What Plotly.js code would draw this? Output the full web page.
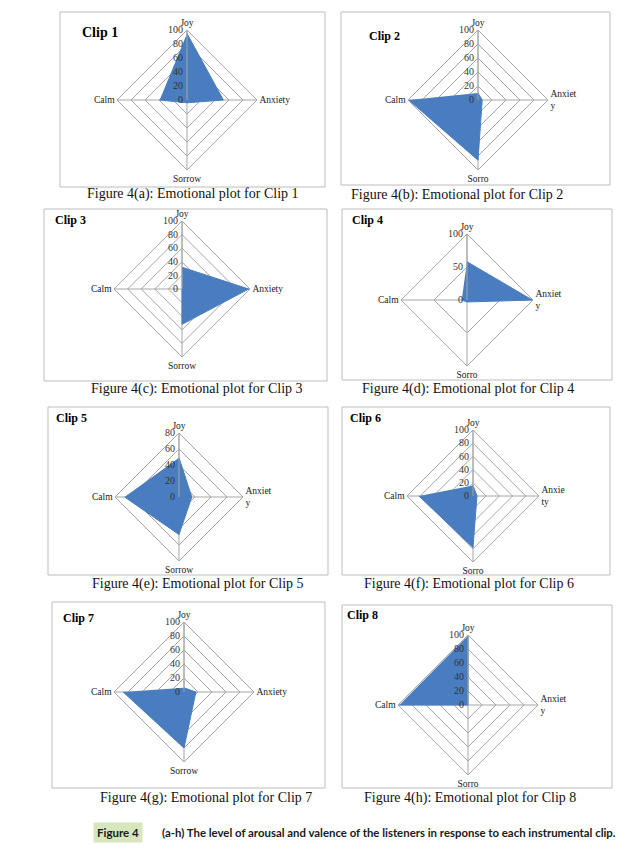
<!DOCTYPE html>
<html><head><meta charset="utf-8">
<script src="https://cdn.plot.ly/plotly-3.0.1.min.js"></script>
<style>html,body{margin:0;padding:0;background:#fff}#chart{width:641px;height:849px}</style>
</head><body><div id="chart"></div>
<script>
// ---- data ----
const categories = ["Joy", "Anxiety", "Sorrow", "Calm"];
const clip1 = [95, 52, 4, 39];
const clip2 = [10, 6, 86, 99];
const clip3 = [32, 98, 52, 0];
const clip4 = [58, 99, 3, 8];
const clip5 = [49, 16, 47, 68];
const clip6 = [16, 6, 78, 82];
const clip7 = [6, 17, 80, 87];
const clip8 = [99, 0, 0, 98];
const clipNames = ["Clip 1", "Clip 2", "Clip 3", "Clip 4", "Clip 5", "Clip 6", "Clip 7", "Clip 8"];
const captions = [
  "Figure 4(a): Emotional plot for Clip 1", "Figure 4(b): Emotional plot for Clip 2",
  "Figure 4(c): Emotional plot for Clip 3", "Figure 4(d): Emotional plot for Clip 4",
  "Figure 4(e): Emotional plot for Clip 5", "Figure 4(f): Emotional plot for Clip 6",
  "Figure 4(g): Emotional plot for Clip 7", "Figure 4(h): Emotional plot for Clip 8"
];
const labelsFull = ["Joy", "Anxiety", "Sorrow", "Calm"];
const labelsCut = ["Joy", "Anxiet<br>y", "Sorro", "Calm"];
const labelsCut5 = ["Joy", "Anxiet<br>y", "Sorrow", "Calm"];
const labelsCut6 = ["Joy", "Anxie<br>ty", "Sorro", "Calm"];
const ticks100 = [0, 20, 40, 60, 80, 100];
const ticks50 = [0, 50, 100];
const ticks80 = [0, 20, 40, 60, 80];
const figNote = "(a-h) The level of arousal and valence of the listeners in response to each instrumental clip.";
const figLabel = "Figure 4";

// ---- layout geometry (pixels) ----
const W = 641, H = 849;
const px = x => x / W, py = y => 1 - y / H;
const panels = [
  {vals: clip1, labels: labelsFull, ticks: ticks100, max: 100, cx: 187, cy: 100, r: 70, box: [60, 12, 325, 187], clip: [80, 32, 14], cap: [193, 194]},
  {vals: clip2, labels: labelsCut, ticks: ticks100, max: 100, cx: 478, cy: 100, r: 70, box: [341, 12, 610, 185], clip: [367, 36, 12], cap: [457, 195]},
  {vals: clip3, labels: labelsFull, ticks: ticks100, max: 100, cx: 182, cy: 289, r: 68, box: [44, 209, 327, 381], clip: [53, 220, 12], cap: [197, 389]},
  {vals: clip4, labels: labelsCut, ticks: ticks50, max: 100, cx: 467, cy: 300, r: 66, box: [342, 209, 612, 380], clip: [350, 220, 12], cap: [468, 389]},
  {vals: clip5, labels: labelsCut5, ticks: ticks80, max: 80, cx: 179, cy: 497, r: 64, box: [48, 407, 328, 575], clip: [54, 418, 12], cap: [198, 584]},
  {vals: clip6, labels: labelsCut6, ticks: ticks100, max: 100, cx: 473, cy: 496, r: 66, box: [342, 407, 610, 575], clip: [348, 418, 12], cap: [469, 584]},
  {vals: clip7, labels: labelsFull, ticks: ticks100, max: 100, cx: 184, cy: 692, r: 70, box: [52, 602, 325, 788], clip: [61, 618, 12], cap: [206, 798]},
  {vals: clip8, labels: labelsCut, ticks: ticks100, max: 100, cx: 468, cy: 705, r: 70, box: [342, 605, 612, 788], clip: [345, 615, 12], cap: [470, 798]}
];

const serif = "Liberation Serif, Times New Roman, serif";
const gridCol = "#a6a6a6";
const fillCol = "#4a7dbf";

const data = [];
const layout = {
  width: W, height: H,
  margin: {l: 0, r: 0, t: 0, b: 0},
  paper_bgcolor: "#ffffff",
  showlegend: false,
  shapes: [], annotations: []
};

panels.forEach((p, i) => {
  const key = i === 0 ? "polar" : "polar" + (i + 1);
  data.push({
    type: "scatterpolar",
    subplot: key,
    r: p.vals,
    theta: categories,
    mode: "lines",
    fill: "toself",
    fillcolor: fillCol,
    line: {color: fillCol, width: 1},
    hoverinfo: "skip"
  });
  layout[key] = {
    domain: {x: [px(p.cx - p.r), px(p.cx + p.r)], y: [py(p.cy + p.r), py(p.cy - p.r)]},
    gridshape: "linear",
    bgcolor: "rgba(0,0,0,0)",
    angularaxis: {
      type: "category", rotation: 90, direction: "clockwise",
      categoryarray: categories,
      tickmode: "array", tickvals: categories, ticktext: p.labels,
      showline: true, linecolor: gridCol, linewidth: 1,
      gridcolor: gridCol, gridwidth: 1, ticks: "",
      tickfont: {family: serif, size: 9.5, color: "#222"}
    },
    radialaxis: {
      range: [0, p.max], tickmode: "array", tickvals: p.ticks,
      angle: 90, side: "counterclockwise", tickangle: 90,
      showline: true, linecolor: gridCol, gridcolor: gridCol, ticks: "",
      tickfont: {family: serif, size: 10, color: "#333"}
    }
  };
  const b = p.box;
  layout.shapes.push({type: "rect", xref: "paper", yref: "paper",
    x0: px(b[0]), x1: px(b[2]), y0: py(b[3]), y1: py(b[1]),
    line: {color: "#bdbdbd", width: 1}, fillcolor: "rgba(0,0,0,0)", layer: "below"});
  layout.annotations.push({xref: "paper", yref: "paper", x: px(p.clip[0]), y: py(p.clip[1]),
    xanchor: "left", yanchor: "middle", showarrow: false,
    text: "<b>" + clipNames[i] + "</b>", font: {family: serif, size: p.clip[2], color: "#000"}});
  layout.annotations.push({xref: "paper", yref: "paper", x: px(p.cap[0]), y: py(p.cap[1]),
    xanchor: "center", yanchor: "middle", showarrow: false,
    text: captions[i], font: {family: serif, size: 14, color: "#111"}});
});

layout.annotations.push({xref: "paper", yref: "paper", x: px(118), y: py(832),
  xanchor: "center", yanchor: "middle", showarrow: false, bgcolor: "#d7e6bd", borderpad: 3,
  text: "<b>" + figLabel + "</b>", font: {family: "Lato, Open Sans, sans-serif", size: 11.5, color: "#1a1a1a"}});
layout.annotations.push({xref: "paper", yref: "paper", x: px(160), y: py(832),
  xanchor: "left", yanchor: "middle", showarrow: false,
  text: "<b>" + figNote + "</b>", font: {family: "Lato, Open Sans, sans-serif", size: 11.4, color: "#1a1a1a"}});

Plotly.newPlot("chart", data, layout, {staticPlot: true});
</script></body></html>
